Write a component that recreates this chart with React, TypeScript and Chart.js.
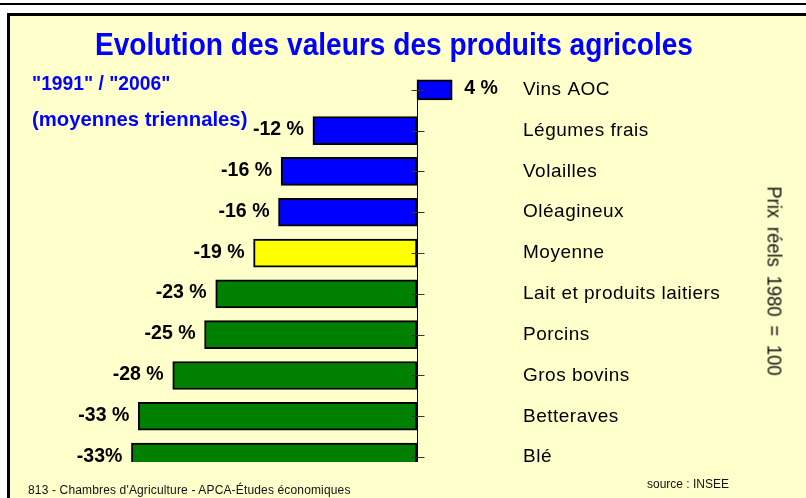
import React, { useEffect, useRef } from 'react';
import { Chart, registerables } from 'chart.js';

Chart.register(...registerables);

// ---------- data ----------
const categories = [
  'Vins AOC',
  'Légumes frais',
  'Volailles',
  'Oléagineux',
  'Moyenne',
  'Lait et produits laitiers',
  'Porcins',
  'Gros bovins',
  'Betteraves',
  'Blé',
];
const changes = [4.1, -12.1, -15.8, -16.1, -19.0, -23.4, -24.7, -28.4, -32.4, -33.2];
const changeLabels = ['4 %', '-12 %', '-16 %', '-16 %', '-19 %', '-23 %', '-25 %', '-28 %', '-33 %', '-33%'];
const kinds = ['above', 'above', 'above', 'above', 'average', 'below', 'below', 'below', 'below', 'below'];

// ---------- styles ----------
const COLORS: Record<string, string> = { above: '#0000FF', average: '#FFFF00', below: '#008000' };
const THIN_ROW = 0;
const SANS = '"Liberation Sans", Arial, Helvetica, sans-serif';

const points = changes.map((v, i) => ({ x: v, y: i }));

const overlayPlugin = {
  id: 'overlay',
  beforeDraw(chart: any) {
    (chart.ctx as any).letterSpacing = '0.5px';
  },
  afterDatasetsDraw(chart: any) {
    const ctx = chart.ctx;
    ctx.save();
    (ctx as any).letterSpacing = '0px';
    const xs = chart.scales.x;
    const ys = chart.scales.y;
    const x0 = Math.round(xs.getPixelForValue(0)) + 0.5;
    const thinEl = chart.getDatasetMeta(1).data[0];
    const top = thinEl ? thinEl.y - thinEl.height / 2 : chart.chartArea.top;
    ctx.strokeStyle = '#000';
    ctx.lineWidth = 1;
    ctx.beginPath();
    ctx.moveTo(x0, top);
    ctx.lineTo(x0, chart.chartArea.bottom);
    ctx.stroke();
    ctx.strokeStyle = '#333';
    categories.forEach((_, i) => {
      const y = Math.round(ys.getPixelForValue(i)) + 0.5;
      ctx.beginPath();
      ctx.moveTo(x0 - 6, y);
      ctx.lineTo(x0 + 7, y);
      ctx.stroke();
    });
    ctx.fillStyle = '#000';
    ctx.font = `bold 21px ${SANS}`;
    ctx.textBaseline = 'alphabetic';
    chart.data.datasets.forEach((ds: any, di: number) => {
      const meta = chart.getDatasetMeta(di);
      meta.data.forEach((el: any, j: number) => {
        const raw = ds.data[j];
        const neg = raw.x < 0;
        ctx.save();
        ctx.translate(neg ? el.x - 9 : el.x + 12, el.y + 4.5);
        ctx.scale(0.93, 1);
        ctx.textAlign = neg ? 'right' : 'left';
        ctx.fillText(changeLabels[raw.y], 0, 0);
        ctx.restore();
      });
    });
    ctx.restore();
  },
};

export default function App() {
  const ref = useRef<HTMLCanvasElement>(null);

  useEffect(() => {
    const colorOf = (c: any) => COLORS[kinds[c.raw ? c.raw.y : 0]];
    const chart = new Chart(ref.current as HTMLCanvasElement, {
      type: 'bar',
      data: {
        datasets: [
          {
            data: points.filter((p) => p.y !== THIN_ROW),
            backgroundColor: colorOf,
            maxBarThickness: 28,
          } as any,
          {
            data: points.filter((p) => p.y === THIN_ROW),
            backgroundColor: colorOf,
            maxBarThickness: 20,
          } as any,
        ],
      },
      options: {
        indexAxis: 'y',
        animation: false,
        responsive: false,
        devicePixelRatio: 1,
        datasets: {
          bar: {
            grouped: false,
            barPercentage: 1,
            categoryPercentage: 1,
            borderColor: '#000',
            borderWidth: 2,
            borderSkipped: false,
            clip: 0,
          } as any,
        },
        layout: { padding: { left: 20, top: 49, bottom: 36, right: 0 } },
        plugins: { legend: { display: false }, tooltip: { enabled: false }, title: { display: false } },
        scales: {
          x: { type: 'linear', display: false, offset: false, min: -46.16, max: 11.4 },
          y: {
            type: 'linear',
            position: 'right',
            reverse: true,
            offset: false,
            min: -1,
            max: 9.12,
            grid: { display: false, drawTicks: false, tickLength: 0, offset: false },
            border: { display: false },
            afterBuildTicks: (scale: any) => {
              scale.ticks = categories.map((_, i) => ({ value: i }));
            },
            afterFit: (scale: any) => {
              scale.width = 291;
            },
            ticks: {
              padding: 8,
              color: '#000',
              font: { family: SANS, size: 19 },
              callback: (v: any) => categories[v as number],
            },
          } as any,
        },
      },
      plugins: [overlayPlugin],
    });
    return () => chart.destroy();
  }, []);

  const abs: React.CSSProperties = { position: 'absolute', whiteSpace: 'nowrap', margin: 0 };

  return (
    <div
      style={{
        position: 'fixed',
        left: 0,
        top: 0,
        width: 806,
        height: 498,
        overflow: 'hidden',
        background: '#fff',
        fontFamily: SANS,
      }}
    >
      <div style={{ ...abs, left: 0, top: 3, width: 806, height: 2, background: '#000' }} />
      <div
        style={{
          ...abs,
          left: 7,
          top: 13,
          width: 820,
          height: 500,
          background: '#FFFFCC',
          borderLeft: '3px solid #000',
          borderTop: '3px solid #000',
        }}
      />
      <canvas ref={ref} width={806} height={498} style={{ position: 'absolute', left: 0, top: 0 }} />
      <div
        style={{
          ...abs,
          left: 0,
          top: 28,
          width: 788,
          textAlign: 'center',
          font: `bold 32px ${SANS}`,
          lineHeight: '32px',
          color: '#0000FF',
          transform: 'scaleX(0.878)',
        }}
      >
        Evolution des valeurs des produits agricoles
      </div>
      <div
        style={{
          ...abs,
          left: 32,
          top: 73,
          font: `bold 20.5px ${SANS}`,
          lineHeight: '20.5px',
          color: '#0000FF',
          transform: 'scaleX(0.94)',
          transformOrigin: 'left center',
        }}
      >
        "1991" / "2006"
      </div>
      <div
        style={{
          ...abs,
          left: 32,
          top: 109,
          font: `bold 20.5px ${SANS}`,
          lineHeight: '20.5px',
          color: '#0000FF',
          transform: 'scaleX(0.99)',
          transformOrigin: 'left center',
        }}
      >
        (moyennes triennales)
      </div>
      <div
        style={{
          ...abs,
          left: 774.5,
          top: 281,
          font: `21px ${SANS}`,
          lineHeight: '21px',
          wordSpacing: 4,
          color: '#111',
          transform: 'translate(-50%, -50%) rotate(90deg) scaleX(0.88)',
        }}
      >
        Prix réels 1980 = 100
      </div>
      <div
        style={{
          ...abs,
          left: 28,
          top: 484,
          font: `12px ${SANS}`,
          lineHeight: '12px',
          letterSpacing: '0.15px',
          color: '#111',
        }}
      >
        813 - Chambres d'Agriculture - APCA-Études économiques
      </div>
      <div style={{ ...abs, left: 647, top: 478, font: `12px ${SANS}`, lineHeight: '12px', color: '#111' }}>
        source : INSEE
      </div>
    </div>
  );
}
